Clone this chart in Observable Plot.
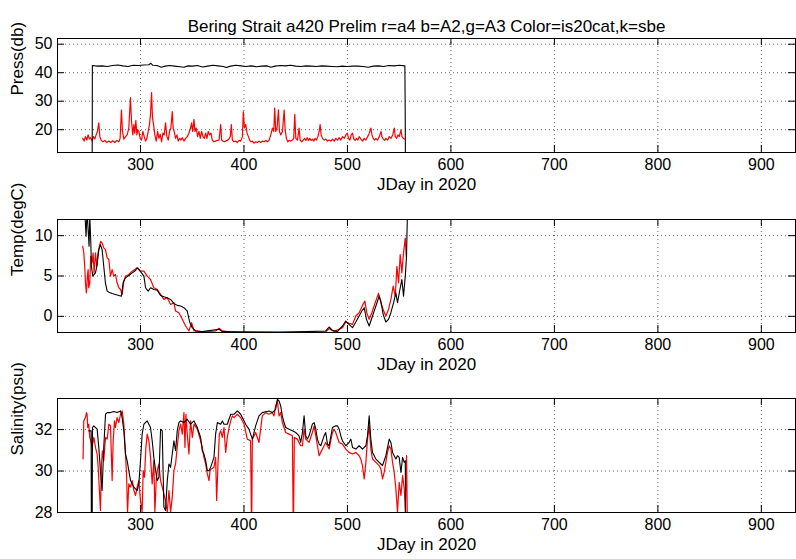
<!DOCTYPE html>
<html><head><meta charset="utf-8">
<script src="https://cdn.jsdelivr.net/npm/d3@7"></script>
<script src="https://cdn.jsdelivr.net/npm/@observablehq/plot@0.6"></script>
<style>
html,body{margin:0;padding:0;background:#fff;}
#chart{position:relative;width:796px;height:559px;overflow:hidden;font-family:"Liberation Sans",Arial,sans-serif;}
#chart svg{position:absolute;left:0;}
</style></head><body><div id="chart"></div>
<script>
const title = "Bering Strait a420 Prelim r=a4 b=A2,g=A3 Color=is20cat,k=sbe";
const xLabel = "JDay in 2020";
const xTicks = [300,400,500,600,700,800,900];
const xDomain = [219.8,933];
const pressTicks = [20,30,40,50];
const tempTicks = [0,5,10];
const salTicks = [28,30,32];

// [JDay, value]
const pressRed = [[244.2,16.96],[245.5,16.0],[246.8,17.57],[248.1,16.36],[249.4,18.17],[250.7,16.72],[251.9,17.21],[253.2,16.0],[254.5,17.57],[255.8,16.72],[257.1,18.17],[258.4,19.38],[259.7,22.4],[260.7,17.57],[261.9,16.36],[263.6,15.76],[265.5,16.24],[267.4,15.51],[269.4,16.0],[271.3,15.51],[273.2,16.12],[275.2,15.51],[277.1,16.24],[279.1,15.76],[280.3,16.96],[281.6,26.87],[282.6,19.38],[283.9,16.72],[285.5,17.57],[287.1,18.17],[288.7,20.59],[290.3,31.22],[291.3,23.0],[292.6,18.17],[293.6,21.8],[294.5,18.78],[295.5,23.25],[296.5,18.17],[297.4,19.98],[298.4,19.38],[299.7,16.96],[301.0,16.36],[302.3,19.38],[303.6,17.57],[304.9,16.0],[306.2,16.96],[307.4,19.38],[308.7,21.8],[309.7,25.42],[310.7,33.03],[311.6,24.21],[312.6,21.8],[313.9,18.17],[315.2,16.0],[316.5,19.38],[317.8,16.96],[319.1,18.41],[320.4,15.76],[321.6,18.78],[322.9,18.17],[324.2,22.4],[325.5,17.57],[326.8,16.36],[328.1,19.38],[329.4,20.59],[330.7,26.39],[331.6,20.59],[332.6,19.38],[333.9,16.96],[335.2,18.17],[336.5,16.0],[337.8,16.96],[339.1,16.36],[340.4,17.21],[342.0,16.0],[343.6,16.96],[345.2,17.57],[346.8,18.78],[348.4,20.59],[349.4,22.4],[350.4,19.38],[351.7,23.61],[352.6,19.38],[353.9,20.59],[355.2,17.57],[356.5,19.38],[357.8,16.96],[359.1,19.38],[360.4,17.57],[361.7,16.96],[363.0,18.78],[364.2,16.96],[365.5,19.38],[366.8,18.17],[368.1,18.78],[369.4,16.36],[371.0,15.76],[372.6,16.0],[374.2,16.24],[375.9,16.36],[377.5,21.8],[378.4,16.36],[379.7,16.0],[381.0,15.76],[382.3,16.0],[383.9,16.24],[385.5,16.72],[386.8,17.57],[387.8,21.8],[388.8,16.36],[390.4,15.76],[392.0,16.0],[393.6,15.51],[395.2,16.24],[396.8,16.0],[398.5,17.57],[399.4,26.39],[400.4,20.59],[401.7,21.8],[403.0,18.78],[404.3,17.57],[405.5,16.36],[406.8,15.76],[408.1,16.0],[409.7,15.27],[411.4,15.76],[413.0,15.51],[414.6,16.0],[416.2,15.51],[417.8,16.0],[419.4,15.76],[421.0,16.24],[422.7,15.76],[424.3,16.36],[425.9,18.17],[427.5,20.59],[428.8,19.38],[429.7,27.59],[430.7,19.38],[432.0,20.59],[433.3,26.99],[434.3,19.38],[435.6,18.17],[437.2,19.38],[438.8,26.87],[439.8,19.98],[441.0,16.96],[442.3,15.76],[443.6,16.24],[445.2,16.0],[446.9,16.36],[448.1,16.96],[449.1,25.42],[450.1,16.96],[451.7,16.36],[453.3,20.59],[454.3,16.36],[455.9,15.76],[457.2,16.36],[458.5,16.96],[459.8,16.24],[461.1,17.21],[462.4,16.24],[463.6,16.96],[464.9,16.24],[466.2,16.72],[467.5,16.0],[468.8,16.96],[470.1,16.36],[471.4,17.57],[472.7,19.38],[473.6,21.8],[474.6,18.17],[475.9,16.96],[477.5,16.36],[479.1,16.72],[480.7,16.0],[482.3,16.36],[484.0,16.0],[485.6,16.72],[487.2,16.0],[488.8,16.96],[490.4,16.36],[492.0,17.21],[493.6,16.36],[495.3,17.57],[496.9,16.96],[498.5,18.17],[499.8,18.78],[501.1,16.96],[502.4,16.36],[503.6,18.17],[504.9,18.78],[506.2,16.72],[507.5,16.24],[508.8,16.96],[510.1,16.36],[511.4,17.57],[513.0,16.72],[514.6,16.0],[516.2,16.96],[517.8,16.36],[519.5,17.57],[521.1,18.78],[522.7,20.59],[523.7,18.17],[524.9,16.96],[526.2,16.36],[527.5,16.96],[529.1,16.36],[530.8,17.57],[532.4,19.38],[533.3,17.57],[534.6,16.72],[535.9,16.24],[537.2,16.96],[538.8,16.36],[540.4,17.57],[542.1,16.96],[543.7,18.17],[545.3,20.59],[546.2,17.57],[547.5,16.96],[548.8,18.17],[550.1,17.57],[551.7,19.98],[552.7,17.57],[554.0,16.96],[555.0,16.72]];
const pressBlack = [[253.3,5],[253.5,42.5],[258,42.3],[263,42.4],[268,42.2],[273,42.5],[278,42.7],[283,42.4],[288,42.2],[293,42.6],[298,42.5],[303,42.7],[308,42.8],[310,43.3],[312,42.6],[316,42.5],[320,41.9],[324,42.3],[328,42.5],[333,42.3],[338,42.1],[342,41.9],[346,42.4],[350,42.3],[355,42.5],[360,42.0],[365,42.3],[370,42.6],[375,42.4],[380,42.2],[383,41.8],[387,42.3],[392,42.6],[397,42.4],[402,42.2],[407,42.4],[412,42.1],[417,42.3],[422,42.4],[426,41.9],[430,42.3],[435,42.5],[440,42.4],[445,42.6],[450,42.3],[455,42.2],[460,42.4],[465,42.3],[470,42.2],[475,42.4],[480,42.3],[485,42.2],[490,42.1],[495,42.3],[500,42.2],[505,42.3],[510,42.3],[515,42.2],[520,41.9],[525,42.3],[530,42.4],[535,42.2],[540,42.5],[545,42.4],[550,42.6],[555.5,42.4],[555.8,27.0],[556.1,5]];

const tempRed = [[244.2,8.68],[245.2,7.86],[246.1,6.21],[246.8,4.16],[247.7,2.92],[248.7,4.98],[249.4,5.80],[250.0,3.54],[251.0,4.16],[251.9,7.45],[253.2,6.63],[254.2,7.86],[255.2,5.39],[256.5,7.86],[257.8,6.21],[259.0,7.86],[260.3,8.68],[261.6,9.30],[262.9,9.09],[264.5,8.48],[266.1,8.27],[267.8,7.24],[269.4,7.04],[271.0,4.98],[272.6,5.80],[274.2,4.98],[275.8,5.19],[277.4,4.16],[279.1,3.54],[280.7,3.33],[282.3,2.72],[283.9,4.36],[285.5,4.98],[288.7,5.19],[292.0,5.60],[295.2,5.88],[297.4,6.01],[300.0,5.60],[303.3,5.60],[306.5,4.98],[309.7,4.57],[312.9,3.54],[316.2,3.33],[319.4,2.72],[322.6,2.10],[325.8,2.30],[329.1,1.48],[332.3,1.69],[333.9,0.66],[337.1,0.45],[340.4,-0.37],[343.6,-1.19],[346.8,-1.81],[349.4,-0.78],[351.7,-1.81],[354.9,-1.81],[359.7,-1.93],[372.6,-1.81],[375.9,-1.48],[379.1,-1.81],[385.5,-1.93],[398.4,-1.93],[440,-1.95],[479.0,-1.93],[482.3,-1.52],[487.1,-1.89],[495.2,-1.40],[498.4,-0.70],[501.6,-0.86],[504.9,-0.99],[508.1,0.04],[511.3,0.45],[514.5,1.36],[516.8,1.89],[518.7,0.45],[521.0,-0.37],[523.6,0.45],[526.8,1.69],[530.0,2.84],[532.3,1.69],[534.5,0.86],[537.1,0.04],[539.7,0.86],[542.0,2.10],[544.2,3.74],[546.2,2.51],[547.8,6.21],[549.4,4.16],[551.0,7.65],[552.6,5.39],[554.2,7.86],[555.9,9.71],[556.8,7.45]];
const tempBlack = [[246.1,13.2],[247.4,9.92],[248.4,13.2],[249.4,10.74],[250.3,8.68],[251.0,12.4],[251.9,9.5],[252.6,6.21],[253.9,4.98],[255.2,5.19],[256.5,5.39],[258.1,6.42],[259.7,8.27],[261.3,8.89],[262.9,8.27],[264.5,6.21],[266.1,4.16],[267.8,3.13],[269.4,3.0],[272.6,2.84],[275.8,2.72],[279.1,2.59],[281.6,2.51],[283.2,4.16],[285.5,4.77],[288.7,5.06],[292.0,5.39],[295.2,5.68],[296.8,6.01],[298.4,5.80],[301.0,5.39],[303.3,4.98],[304.9,3.54],[307.4,3.13],[309.7,3.54],[312.9,3.33],[316.2,3.25],[319.4,2.59],[322.6,2.43],[325.8,2.30],[329.1,2.10],[332.3,1.60],[335.5,1.36],[338.8,1.28],[342.0,1.07],[345.2,0.66],[347.5,-0.70],[350.0,-1.40],[353.3,-1.81],[359.7,-1.89],[375.9,-1.60],[379.1,-1.89],[398.4,-1.93],[433.9,-1.98],[479.0,-1.81],[482.3,-1.32],[485.5,-1.73],[490.3,-1.89],[495.2,-1.19],[498.4,-0.58],[501.6,-0.99],[504.9,-1.40],[508.1,-0.70],[511.3,0.04],[513.9,0.66],[516.2,1.07],[518.4,-0.37],[521.0,-1.19],[524.2,0.04],[527.5,1.28],[530.7,2.51],[532.3,1.89],[534.5,0.25],[537.1,-0.70],[539.7,-0.37],[542.0,0.45],[544.6,1.69],[546.8,2.92],[548.4,1.69],[550.7,3.33],[552.6,4.57],[554.2,2.51],[555.9,4.98],[557.1,7.45],[558.1,13.6]];

const salRed = [[244.5,30.58],[245.2,32.42],[246.8,32.58],[247.8,32.82],[248.4,32.74],[249.0,32.1],[250.0,32.26],[251.0,31.62],[252.3,31.38],[253.2,31.14],[254.9,31.62],[256.5,31.14],[258.1,30.82],[259.1,30.18],[260.3,29.06],[261.3,28.1],[262.3,30.34],[263.2,30.98],[264.5,30.5],[266.2,31.62],[267.8,31.54],[269.4,32.26],[271.0,32.18],[272.6,29.54],[273.6,31.46],[274.9,32.42],[275.8,32.1],[277.4,32.58],[279.1,32.34],[280.7,32.74],[282.3,32.9],[283.9,32.26],[285.5,30.82],[286.5,29.86],[287.5,28.02],[288.7,29.38],[290.4,29.22],[292.0,29.54],[293.6,29.06],[295.2,28.82],[296.8,29.22],[298.4,29.54],[300.0,28.58],[301.6,28.02],[302.6,30.02],[303.9,29.7],[305.2,31.14],[306.5,31.78],[308.1,31.46],[309.7,30.66],[311.3,29.38],[312.9,30.5],[313.9,28.02],[315.2,29.54],[316.2,30.02],[317.8,30.34],[319.4,29.54],[321.0,29.22],[322.6,28.9],[324.2,28.58],[325.9,28.02],[327.5,29.06],[329.1,28.02],[330.7,28.74],[332.3,30.02],[333.9,30.34],[335.5,31.14],[337.1,31.94],[338.8,32.26],[340.4,31.78],[342.0,32.82],[343.0,31.14],[343.9,32.74],[345.2,31.78],[346.8,30.82],[348.4,32.42],[350.1,31.62],[351.7,32.26],[354.9,32.02],[358.1,31.46],[359.7,31.14],[361.3,30.66],[363.0,30.34],[364.6,29.86],[366.2,29.54],[367.2,30.02],[368.4,30.1],[371.0,30.18],[372.6,30.66],[373.6,28.58],[374.9,30.34],[376.2,31.78],[377.5,31.94],[379.1,31.62],[380.7,32.1],[382.3,30.9],[383.9,31.62],[385.6,32.1],[387.2,32.42],[388.8,32.66],[390.4,32.58],[393.6,32.74],[396.8,32.58],[400.1,32.26],[403.2,31.54],[406.4,31.46],[407.4,27],[408.1,31.54],[411.3,31.86],[414.5,31.38],[416.1,32.02],[417.7,32.66],[421.0,32.82],[424.2,32.74],[427.4,32.82],[429.0,32.66],[430.6,33.14],[432.3,33.38],[433.9,32.66],[435.5,32.82],[437.1,32.34],[440.3,31.86],[443.6,31.78],[446.8,31.7],[447.7,27],[448.7,31.62],[451.6,31.54],[454.8,31.22],[456.5,31.22],[458.1,32.02],[459.7,31.54],[462.9,31.38],[466.1,31.86],[467.8,32.18],[469.4,31.7],[471.0,31.22],[472.6,30.74],[474.2,30.9],[477.4,31.22],[479.0,31.38],[482.3,31.06],[485.5,31.86],[487.1,32.02],[488.7,31.86],[492.0,31.38],[495.2,31.3],[498.4,31.06],[501.6,30.9],[504.9,30.82],[508.1,30.9],[511.3,30.74],[512.9,30.58],[514.5,30.26],[516.2,29.62],[517.8,30.42],[519.4,31.54],[521.0,32.18],[522.6,31.06],[524.2,30.58],[527.5,30.42],[530.7,30.26],[532.3,30.1],[533.9,29.62],[535.5,29.94],[537.1,30.42],[538.7,30.9],[540.4,31.22],[542.0,31.06],[543.6,30.42],[545.2,29.94],[546.8,29.14],[548.4,28.02],[550.0,29.46],[551.7,28.82],[553.3,29.78],[554.9,29.14],[555.9,28.02],[557.1,30.74],[558.1,27]];
const salBlack = [[250.0,31.94],[252.3,31.94],[252.9,20],[253.6,32.1],[254.9,32.18],[258.1,32.02],[259.7,31.14],[261.3,30.02],[262.9,29.06],[264.5,31.14],[266.2,32.74],[267.8,32.82],[271.0,32.82],[274.2,32.87],[277.4,32.82],[280.7,32.9],[282.3,32.58],[283.9,31.94],[285.5,30.82],[287.1,30.5],[288.7,30.02],[290.4,29.54],[293.6,29.22],[296.8,29.06],[298.4,29.38],[300.0,30.5],[301.6,31.78],[303.3,32.26],[306.5,32.42],[309.7,32.1],[311.3,31.46],[312.9,30.66],[314.6,30.02],[316.2,29.54],[317.8,29.7],[319.4,32.02],[321.0,31.94],[322.6,28.26],[324.2,28.1],[325.9,29.54],[327.5,30.34],[329.1,30.18],[330.7,30.82],[332.3,31.46],[333.9,30.98],[335.5,31.94],[337.1,32.34],[338.8,32.42],[342.0,32.34],[345.2,32.5],[348.4,32.26],[351.7,32.42],[354.9,32.1],[358.1,31.62],[359.7,30.98],[361.3,30.82],[363.0,30.5],[364.6,30.02],[366.2,30.02],[367.8,30.18],[371.0,30.66],[372.6,31.78],[374.3,32.34],[377.5,32.26],[379.1,32.42],[380.7,32.26],[383.9,32.26],[387.2,32.74],[390.4,32.74],[393.6,32.9],[396.8,32.74],[400.1,32.42],[401.6,32.26],[404.8,32.02],[408.1,31.54],[411.3,32.18],[414.5,32.66],[417.7,32.82],[421.0,32.86],[424.2,32.9],[427.4,32.82],[430.6,32.98],[432.3,33.46],[433.9,33.38],[435.5,33.14],[437.1,32.66],[438.7,32.34],[440.3,32.1],[443.6,32.02],[446.8,31.94],[450.0,31.86],[453.2,31.7],[454.8,31.38],[456.5,31.86],[458.1,32.66],[459.7,31.7],[461.3,31.54],[462.9,31.7],[466.1,32.26],[467.8,32.34],[469.4,32.02],[471.0,31.54],[472.6,31.3],[474.2,31.22],[477.4,31.7],[479.0,31.86],[480.7,31.3],[482.3,31.22],[485.5,32.1],[488.7,32.18],[490.3,32.18],[492.0,32.02],[493.6,31.7],[495.2,31.46],[498.4,31.22],[501.6,31.38],[503.3,31.54],[504.9,31.14],[508.1,31.06],[511.3,31.22],[514.5,31.06],[517.8,31.22],[519.4,31.7],[521.0,32.66],[522.6,31.54],[524.2,30.9],[527.5,30.58],[530.7,30.42],[532.3,30.34],[533.9,30.26],[537.1,30.74],[540.4,31.54],[542.0,31.38],[543.6,30.9],[546.8,30.58],[548.4,30.74],[550.0,30.66],[551.7,29.93],[553.3,30.66],[554.9,30.42],[555.9,30.5],[557.1,20]];

const FONT = "'Liberation Sans', Arial, Helvetica, sans-serif";
const FS = 17, TFS = 16;
const W = 796, ML = 57, MR = 1;

function panel({top, height, mt, mb, yDomain, yTicks, ylabel, red, black, titleText}) {
  const plotH = height - mt - mb, plotW = W - ML - MR;
  const ty = (yDomain[1] - yDomain[0]) * 7 / plotH;
  const tx = (xDomain[1] - xDomain[0]) * 7 / plotW;
  const grid = {stroke: "#000", strokeOpacity: 0.6, strokeDasharray: "1,3", strokeWidth: 1};
  const tick = {stroke: "#000", strokeWidth: 1};
  const marks = [
    Plot.ruleX(xTicks, grid),
    Plot.ruleY(yTicks, grid),
    Plot.line(red, {x: d => d[0], y: d => d[1], stroke: "#ff0000", strokeWidth: 1.2, clip: true}),
    Plot.line(black, {x: d => d[0], y: d => d[1], stroke: "#000", strokeWidth: 1.1, clip: true}),
    Plot.ruleX(xTicks, {...tick, y1: yDomain[0], y2: yDomain[0] + ty}),
    Plot.ruleX(xTicks, {...tick, y1: yDomain[1] - ty, y2: yDomain[1]}),
    Plot.ruleY(yTicks, {...tick, x1: xDomain[0], x2: xDomain[0] + tx}),
    Plot.ruleY(yTicks, {...tick, x1: xDomain[1] - tx, x2: xDomain[1]}),
    Plot.frame({stroke: "#000", strokeWidth: 1}),
    Plot.axisX({ticks: xTicks, tickSize: 0, tickPadding: 6, label: null, fontSize: TFS, tickFormat: d => String(d)}),
    Plot.axisY({ticks: yTicks, tickSize: 0, tickPadding: 5, label: null, fontSize: TFS, tickFormat: d => String(d)}),
    Plot.text([ylabel], {frameAnchor: "left", dx: -39.5, rotate: -90, fontSize: FS, fill: "#000"}),
    Plot.text([xLabel], {frameAnchor: "bottom", dy: 37, fontSize: FS, fill: "#000"})
  ];
  if (titleText) marks.push(Plot.text([titleText], {frameAnchor: "top", dy: -19, fontSize: FS, fill: "#000"}));
  const svg = Plot.plot({
    width: W, height, marginLeft: ML, marginRight: MR, marginTop: mt, marginBottom: mb,
    style: {fontFamily: FONT, fontSize: FS + "px", color: "#000", background: "transparent", overflow: "visible"},
    x: {domain: xDomain},
    y: {domain: yDomain},
    marks
  });
  svg.style.top = top + "px";
  document.getElementById("chart").appendChild(svg);
}

panel({top: 0, height: 200, mt: 38, mb: 48, yDomain: [12, 52], yTicks: pressTicks, ylabel: "Press(db)", red: pressRed, black: pressBlack, titleText: title});
panel({top: 200, height: 180, mt: 19, mb: 48, yDomain: [-2, 12], yTicks: tempTicks, ylabel: "Temp(degC)", red: tempRed, black: tempBlack});
panel({top: 380, height: 179, mt: 18, mb: 47, yDomain: [28, 33.5], yTicks: salTicks, ylabel: "Salinity(psu)", red: salRed, black: salBlack});
</script></body></html>
